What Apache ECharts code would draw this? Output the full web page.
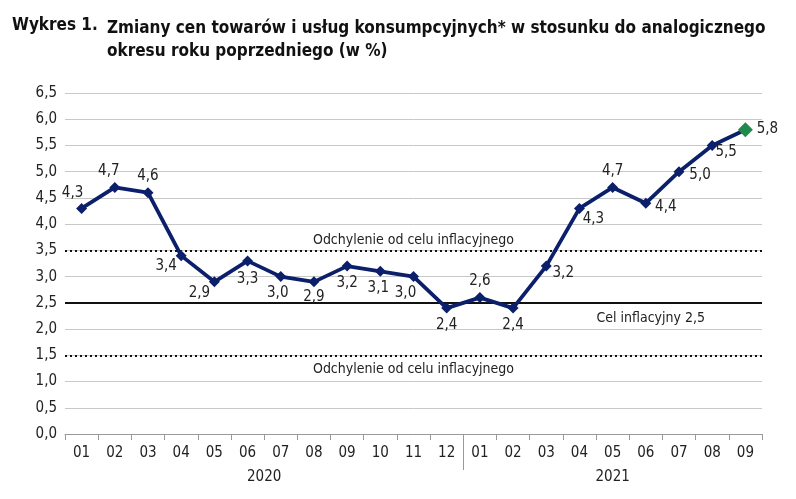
<!DOCTYPE html>
<html>
<head>
<meta charset="utf-8">
<script src="https://cdn.jsdelivr.net/npm/echarts@6/dist/echarts.min.js"></script>
<style>
  html, body { margin: 0; padding: 0; background: #fff; }
  #chart { width: 796px; height: 499px; }
</style>
</head>
<body>
<div id="chart"></div>
<script>
// Months on the axis and year groups below them
const months = ['01', '02', '03', '04', '05', '06', '07', '08', '09', '10', '11', '12',
                '01', '02', '03', '04', '05', '06', '07', '08', '09'];
const years = ['2020', '2021'];
const yearCenters = [6, 16.5];   // in month units, centre of each year block
const yearBreak = 12;

// CPI y/y, %
const cpi = [4.3, 4.7, 4.6, 3.4, 2.9, 3.3, 3.0, 2.9, 3.2, 3.1, 3.0, 2.4,
             2.6, 2.4, 3.2, 4.3, 4.7, 4.4, 5.0, 5.5, 5.8];

const target = 2.5;
const bandUpper = 3.5;
const bandLower = 1.5;

// where each value label sits relative to its point (style only)
const labelOffset = [
  [-9, -15], [-6, -16], [0, -17], [-15, 10], [-15, 11], [0, 18], [-3, 16], [0, 15],
  [0, 17], [-2, 17], [-8, 16], [0, 17], [0, -16], [0, 17], [17, 7], [14, 11],
  [0, -16], [20, 4], [21, 3], [14, 7], [22, -1]
];

const FONT = "'DejaVu Sans Condensed', Roboto, sans-serif";
const fmt = v => v.toFixed(1).replace('.', ',');

const chart = echarts.init(document.getElementById('chart'));

const seriesData = cpi.map((v, i) => ({
  value: v,
  itemStyle: i === cpi.length - 1 ? { color: '#1f8a4c' } : undefined,
  symbolSize: i === cpi.length - 1 ? 15 : 11,
  label: { offset: labelOffset[i] }
}));

chart.setOption({
  animation: false,
  textStyle: { fontFamily: FONT },
  title: [{
    text: 'Wykres 1.',
    left: 7, top: 12,
    textStyle: { fontFamily: FONT, fontSize: 17, fontWeight: 'bold', color: '#111' }
  }, {
    text: 'Zmiany cen towarów i usług konsumpcyjnych* w stosunku do analogicznego\nokresu roku poprzedniego (w %)',
    left: 102, top: 12,
    textStyle: { fontFamily: FONT, fontSize: 17, fontWeight: 'bold', color: '#111', lineHeight: 23 }
  }],
  grid: { left: 65, right: 34, top: 93, bottom: 65 },
  xAxis: [{
    type: 'category',
    data: months,
    boundaryGap: true,
    axisLine: { lineStyle: { color: '#999', width: 1 } },
    axisTick: { show: true, alignWithLabel: false, length: 6, lineStyle: { color: '#999' } },
    axisLabel: { color: '#222', fontSize: 15, margin: 12, fontFamily: FONT }
  }, {
    type: 'value',
    position: 'bottom',
    min: 0, max: months.length,
    interval: 0.5,
    axisLine: { show: false },
    splitLine: { show: false },
    axisTick: { show: true, customValues: [yearBreak], length: 36, lineStyle: { color: '#999' } },
    axisLabel: {
      customValues: yearCenters,
      formatter: v => years[yearCenters.indexOf(v)],
      color: '#222', fontSize: 15, margin: 36, fontFamily: FONT
    }
  }],
  yAxis: {
    type: 'value',
    min: 0, max: 6.5, interval: 0.5,
    axisLine: { show: false },
    axisTick: { show: false },
    splitLine: { lineStyle: { color: '#c8c8c8', width: 1 } },
    axisLabel: { formatter: fmt, color: '#222', fontSize: 15, margin: 8, fontFamily: FONT }
  },
  series: [{
    type: 'line',
    data: seriesData,
    symbol: 'diamond',
    lineStyle: { color: '#0b1f6b', width: 3.8 },
    itemStyle: { color: '#0b1f6b' },
    label: {
      show: true,
      position: 'inside',
      formatter: p => fmt(p.value),
      color: '#222', fontSize: 15, fontFamily: FONT
    },
    z: 5,
    markLine: {
      silent: true,
      symbol: 'none',
      animation: false,
      data: [{
        yAxis: bandUpper,
        lineStyle: { type: [2, 3], color: '#111', width: 2 },
        label: { position: 'insideMiddleTop', formatter: 'Odchylenie od celu inflacyjnego', distance: 3 }
      }, {
        yAxis: bandLower,
        lineStyle: { type: [2, 3], color: '#111', width: 2 },
        label: { position: 'insideMiddleBottom', formatter: 'Odchylenie od celu inflacyjnego', distance: 7 }
      }, {
        yAxis: target,
        lineStyle: { type: 'solid', color: '#111', width: 2 },
        label: { position: 'insideEndBottom', formatter: 'Cel inflacyjny 2,5', padding: [0, 48, 0, 0], distance: 9 }
      }],
      label: { color: '#222', fontSize: 14, fontFamily: FONT }
    }
  }]
});
</script>
</body>
</html>
